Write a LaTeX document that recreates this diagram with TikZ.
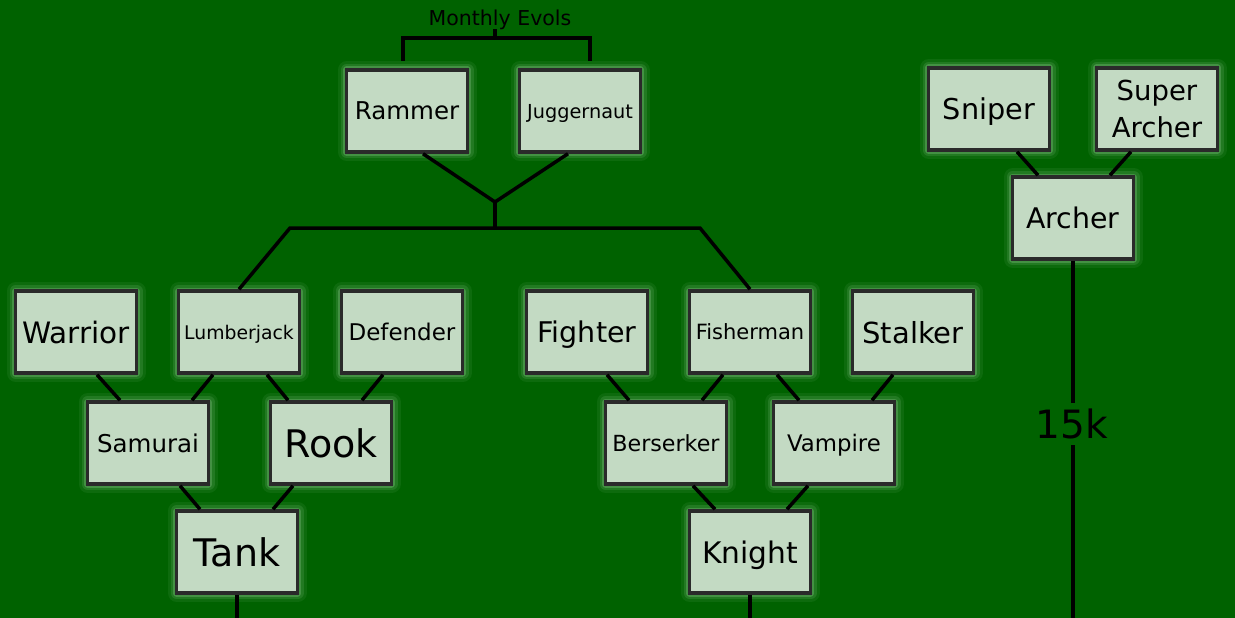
\documentclass[tikz,border=0pt]{standalone}
\usepackage{fontspec}
\setmainfont{DejaVu Sans}
\usepackage{tikz}

\definecolor{bggreen}{HTML}{006200}
\definecolor{boxfill}{HTML}{C3DAC3}
\definecolor{boxline}{HTML}{2A2A2A}
\definecolor{glowc}{HTML}{A8D8A8}

\begin{document}
\begin{tikzpicture}[x=1pt, y=-1pt,
    box/.style = {draw=boxline, line width=3.5pt, fill=boxfill, minimum width=121pt, minimum height=82pt,
                  inner sep=0pt, text depth=0pt, align=center,
                  preaction={draw=glowc, line width=18pt, opacity=.08, line join=round},
                  preaction={draw=glowc, line width=12pt, opacity=.14, line join=round},
                  preaction={draw=glowc, line width=7pt, opacity=.25, line join=round}},
    fs/.style = {font=\fontsize{#1}{#1}\selectfont},
    link/.style = {line width=3.5pt, black}]
        \useasboundingbox (0,0) rectangle (1235,618);
        \fill[bggreen] (0,0) rectangle (1235,618);

        % monthly evols
        \node[fs=20.5, text depth=0pt] (evols) at (500,18) {Monthly Evols};
        \node[box, fs=24.5] (rammer) at (407,111) {Rammer};
        \node[box, fs=19.3] (jugg) at (580,111) {Juggernaut};

        % archer tree
        \node[box, fs=28.7] (sniper) at (989,109) {Sniper};
        \node[box, font=\fontsize{27.5}{37}\selectfont] (superarcher) at (1157,109) {Super\\Archer};
        \node[box, fs=28.4] (archer) at (1073,218) {Archer};
        \node[fs=39, text depth=0pt, inner sep=6pt] (k15) at (1072,424) {15k};

        % tank tree
        \node[box, fs=29.5] (warrior) at (76,332) {Warrior};
        \node[box, fs=18.8] (lumber) at (239,332) {Lumberjack};
        \node[box, fs=23] (defender) at (402,332) {Defender};
        \node[box, fs=24.5] (samurai) at (148,443) {Samurai};
        \node[box, fs=38] (rook) at (331,443) {Rook};
        \node[box, fs=38] (tank) at (237,552) {Tank};

        % knight tree
        \node[box, fs=28.5] (fighter) at (587,332) {Fighter};
        \node[box, fs=21] (fisher) at (750,332) {Fisherman};
        \node[box, fs=29] (stalker) at (913,332) {Stalker};
        \node[box, fs=22.2] (berserker) at (666,443) {Berserker};
        \node[box, fs=22.8] (vampire) at (834,443) {Vampire};
        \node[box, fs=29.7] (knight) at (750,552) {Knight};

        \coordinate (brL) at (403,61);
        \coordinate (brR) at (590,61);
        \coordinate (brTop) at (495,38);
        \coordinate (fork) at (495,202);
        \coordinate (forkbase) at (495,228);
        \coordinate (barL) at (290,228);
        \coordinate (barR) at (700,228);
        \coordinate (tankend) at (237,618);
        \coordinate (knightend) at (750,618);
        \coordinate (archerend) at (1073,618);

        \draw[link] (brL) |- (brTop) -| (brR);
        \draw[link] (brTop) -- (brTop |- evols.south);
        \draw[link] ([xshift=16pt]rammer.south) -- (fork) -- ([xshift=-12pt]jugg.south);
        \draw[link] (fork) -- (forkbase);
        \draw[link] (lumber.north) -- (barL) -- (barR) -- (fisher.north);

        \draw[link] ([xshift=21pt]warrior.south) -- ([xshift=-28pt]samurai.north);
        \draw[link] ([xshift=-26pt]lumber.south) -- ([xshift=44pt]samurai.north);
        \draw[link] ([xshift=28pt]lumber.south) -- ([xshift=-43pt]rook.north);
        \draw[link] ([xshift=-19pt]defender.south) -- ([xshift=31pt]rook.north);
        \draw[link] ([xshift=32pt]samurai.south) -- ([xshift=-37pt]tank.north);
        \draw[link] ([xshift=-38pt]rook.south) -- ([xshift=36pt]tank.north);
        \draw[link] (tank.south) -- (tankend);

        \draw[link] ([xshift=20pt]fighter.south) -- ([xshift=-37pt]berserker.north);
        \draw[link] ([xshift=-27pt]fisher.south) -- ([xshift=36pt]berserker.north);
        \draw[link] ([xshift=27pt]fisher.south) -- ([xshift=-35pt]vampire.north);
        \draw[link] ([xshift=-20pt]stalker.south) -- ([xshift=38pt]vampire.north);
        \draw[link] ([xshift=27pt]berserker.south) -- ([xshift=-35pt]knight.north);
        \draw[link] ([xshift=-26pt]vampire.south) -- ([xshift=37pt]knight.north);
        \draw[link] (knight.south) -- (knightend);

        \draw[link] ([xshift=28pt]sniper.south) -- ([xshift=-35pt]archer.north);
        \draw[link] ([xshift=-26pt]superarcher.south) -- ([xshift=37pt]archer.north);
        \draw[link] (archer.south) -- (archer.south |- k15.north);
        \draw[link] (archer.south |- k15.south) -- (archerend);
      \end{tikzpicture}
\end{document}
